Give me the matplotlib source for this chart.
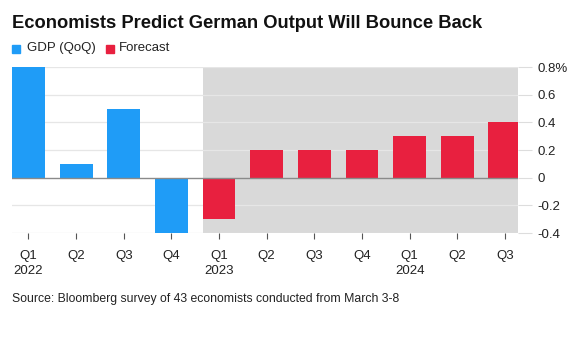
import numpy as np
import matplotlib
matplotlib.use('Agg')
import matplotlib.pyplot as plt

quarters = ['Q1', 'Q2', 'Q3', 'Q4', 'Q1', 'Q2', 'Q3', 'Q4', 'Q1', 'Q2', 'Q3']
years = {0: '2022', 4: '2023', 8: '2024'}
gdp = [0.8, 0.1, 0.5, -0.4]
forecast = [-0.3, 0.2, 0.2, 0.2, 0.3, 0.3, 0.4]
yticks = [-0.4, -0.2, 0, 0.2, 0.4, 0.6, 0.8]
ytick_labels = ['-0.4', '-0.2', '0', '0.2', '0.4', '0.6', '0.8%']

blue = '#1f9cf7'
red = '#e8203f'
shade = '#d9d9d9'

plt.rcParams['font.family'] = ['Liberation Sans', 'DejaVu Sans']

fig = plt.figure(figsize=(5.81, 3.4), dpi=100)
ax = fig.add_axes([12/581, 1-233/340, (518-12)/581, (233-67)/340])

width = 0.69
x_gdp = np.arange(len(gdp))
x_fc = np.arange(len(gdp), len(gdp) + len(forecast))

ax.axvspan(x_fc[0] - width/2, x_fc[-1] + width/2, color=shade, zorder=0, lw=0)
for y in yticks:
    if y != 0:
        ax.axhline(y, color='#e6e6e6', lw=0.9, zorder=1)
ax.bar(x_gdp, gdp, width=width, color=blue, zorder=2)
ax.bar(x_fc, forecast, width=width, color=red, zorder=2)
ax.axhline(0, color='#8a8a8a', lw=1.0, zorder=3)

ax.set_xlim(x_gdp[0] - width/2, x_fc[-1] + width/2 - 0.07)
ax.set_ylim(-0.4, 0.8)
for s in ax.spines.values():
    s.set_visible(False)

ax.yaxis.tick_right()
ax.set_yticks(yticks)
ax.set_yticklabels(ytick_labels)
ax.tick_params(axis='y', length=10, width=0.8, color='#dddddd', pad=4, labelsize=9.5, labelcolor='#222222')

ax.set_xticks(np.arange(len(quarters)))
labels = []
for i, q in enumerate(quarters):
    labels.append(q + ('\n' + years[i] if i in years else '\n'))
ax.set_xticklabels(labels, linespacing=1.4, va='top')
ax.tick_params(axis='x', length=4, width=0.8, color='#555555', pad=8, labelsize=9.5, labelcolor='#222222')

fig.text(12/581, 1-28/340, 'Economists Predict German Output Will Bounce Back',
         fontsize=13.2, fontweight='bold', va='baseline', ha='left', color='#111111')

fig.patches.append(plt.Rectangle((12/581, 1-53/340), 8/581, 8/340, color=blue, transform=fig.transFigure, figure=fig))
fig.text(27/581, 1-48/340, 'GDP (QoQ)', fontsize=9.5, va='center', ha='left', color='#222222')
fig.patches.append(plt.Rectangle((106/581, 1-53/340), 8/581, 8/340, color=red, transform=fig.transFigure, figure=fig))
fig.text(119/581, 1-48/340, 'Forecast', fontsize=9.5, va='center', ha='left', color='#222222')

fig.text(12/581, 1-299/340, 'Source: Bloomberg survey of 43 economists conducted from March 3-8',
         fontsize=8.8, va='center', ha='left', color='#222222')

fig.savefig('out.png', dpi=100, facecolor='white')
